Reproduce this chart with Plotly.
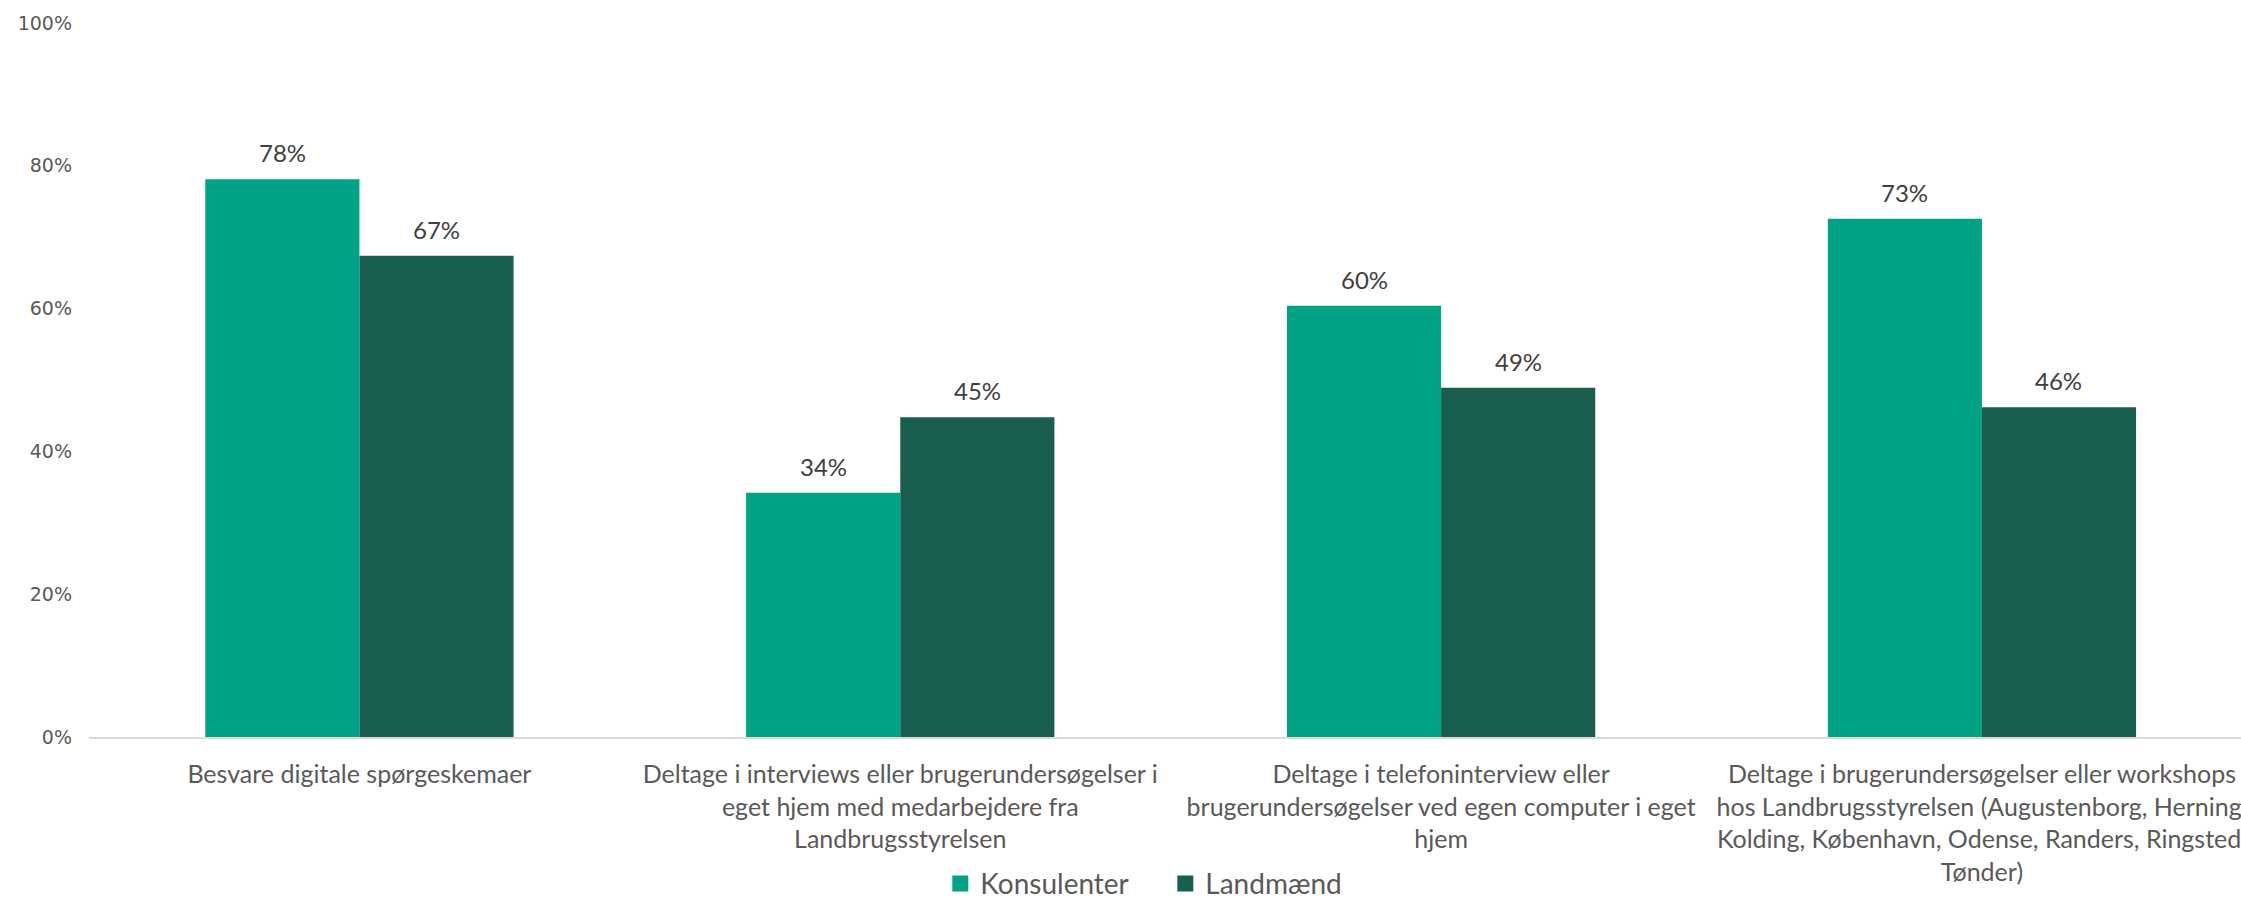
import plotly.graph_objects as go

categories = [
    "Besvare digitale spørgeskemaer",
    "Deltage i interviews eller brugerundersøgelser i<br>eget hjem med medarbejdere fra<br>Landbrugsstyrelsen",
    "Deltage i telefoninterview eller<br>brugerundersøgelser ved egen computer i eget<br>hjem",
    "Deltage i brugerundersøgelser eller workshops<br>hos Landbrugsstyrelsen (Augustenborg, Herning,<br>Kolding, København, Odense, Randers, Ringsted,<br>Tønder)",
]
konsulenter = [78.1, 34.2, 60.4, 72.6]
landmaend = [67.4, 44.8, 48.9, 46.2]
series_names = ["Konsulenter", "Landmænd"]
colors = ["#00A383", "#1A5E50"]
y_ticks = [0, 20, 40, 60, 80, 100]
y_tick_labels = [f"{v}%" for v in y_ticks]

LABEL_FONT = "Lato, 'Open Sans', sans-serif"

fig = go.Figure()
for name, vals, col in zip(series_names, [konsulenter, landmaend], colors):
    fig.add_trace(go.Bar(x=categories, y=vals, name=name, marker_color=col,
                         marker_line_width=0, showlegend=False))
    fig.add_trace(go.Scatter(x=[None], y=[None], mode="markers", name=name,
                             marker=dict(symbol="square", size=18, color=col),
                             showlegend=True))

# data labels
bar_px = 154
for vals, shift in [(konsulenter, -bar_px / 2), (landmaend, bar_px / 2)]:
    for c, v in zip(categories, vals):
        fig.add_annotation(x=c, y=v, text=f"{round(v)}%", showarrow=False,
                           xshift=shift, yanchor="bottom", yshift=10,
                           font=dict(family=LABEL_FONT, size=24, color="#404040"))

fig.update_layout(
    width=2241, height=899,
    margin=dict(l=89, r=0, t=23, b=162, autoexpand=False),
    paper_bgcolor="white", plot_bgcolor="white",
    barmode="group", bargap=0.43, bargroupgap=0,
    legend=dict(orientation="h", xref="container", yref="container",
                x=0.520, y=0.017, xanchor="center", yanchor="middle",
                font=dict(family=LABEL_FONT, size=28, color="#595959"),
                itemwidth=30, tracegroupgap=0, entrywidth=180),
    xaxis=dict(range=[-0.5, 3.479], showline=True, linecolor="#D9D9D9", linewidth=2,
               showgrid=False, ticks="", ticklabelstandoff=14, automargin=False,
               tickfont=dict(family=LABEL_FONT, size=25, color="#595959")),
    yaxis=dict(range=[0, 100], tickmode="array", tickvals=y_ticks, ticktext=y_tick_labels,
               showgrid=False, zeroline=False, showline=False, ticklabelstandoff=16,
               automargin=False,
               tickfont=dict(family="'DejaVu Sans', Verdana, sans-serif", size=19, color="#595959")),
)

fig.write_html("out.html")
